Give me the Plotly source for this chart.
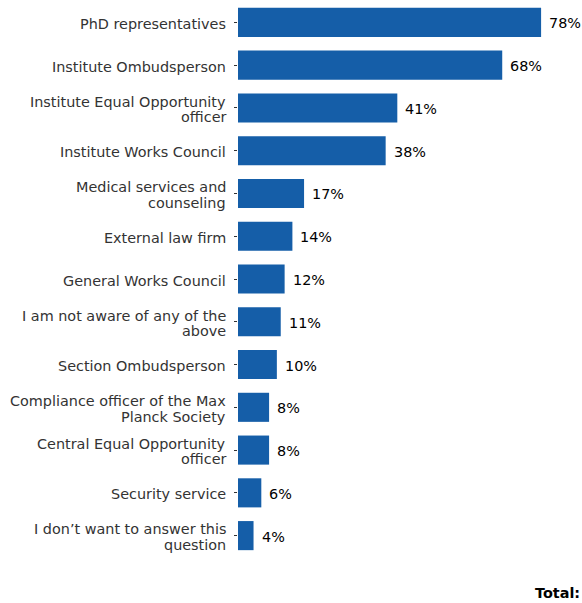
import plotly.graph_objects as go

categories = [
    "PhD representatives",
    "Institute Ombudsperson",
    "Institute Equal Opportunity<br>officer",
    "Institute Works Council",
    "Medical services and<br>counseling",
    "External law firm",
    "General Works Council",
    "I am not aware of any of the<br>above",
    "Section Ombudsperson",
    "Compliance officer of the Max<br>Planck Society",
    "Central Equal Opportunity<br>officer",
    "Security service",
    "I don’t want to answer this<br>question",
]
values = [78, 68, 41, 38, 17, 14, 12, 11, 10, 8, 8, 6, 4]
value_labels = [f"{v}%" for v in values]

BAR = "#155ea8"
FONT = "DejaVu Sans"
FS = 14.4
LINE = 15.5

fig = go.Figure()
fig.add_trace(go.Bar(
    x=values, y=categories, orientation="h",
    marker=dict(color=BAR, line=dict(width=0)),
    width=0.68, hoverinfo="skip",
))
for c, v, t in zip(categories, values, value_labels):
    fig.add_annotation(x=v, y=c, text=t, showarrow=False, xanchor="left",
                       xshift=6, yshift=-1, font=dict(family=FONT, size=FS, color="#000000"))

# category labels, one annotation per line for tighter line spacing
for c in categories:
    lines = c.split("<br>")
    n = len(lines)
    for i, ln in enumerate(lines):
        fig.add_annotation(x=0, y=c, text=ln, showarrow=False, xanchor="right",
                           xshift=-10, yshift=(n - 1) / 2 * LINE - i * LINE - 1.5,
                           font=dict(family=FONT, size=FS, color="#333333"))

fig.add_annotation(x=1, y=0, xref="paper", yref="paper", xanchor="right", yanchor="middle",
                   yshift=-36, xshift=4,
                   text="<b>Total:</b>", showarrow=False,
                   font=dict(family=FONT, size=FS, color="#000000"))

fig.update_layout(
    width=582, height=603,
    margin=dict(l=238, r=4, t=1, b=46),
    paper_bgcolor="white", plot_bgcolor="white",
    showlegend=False,
    font=dict(family=FONT, size=FS, color="#333333"),
    xaxis=dict(range=[0, 87.5], visible=False, fixedrange=True),
    yaxis=dict(autorange="reversed", showgrid=False, zeroline=False, showline=False,
               ticks="outside", ticklen=3, tickcolor="#333333", tickwidth=1,
               showticklabels=False, fixedrange=True),
)
fig.write_html("out.html", config={"displayModeBar": False},
               post_script="document.body.style.margin='0';")
